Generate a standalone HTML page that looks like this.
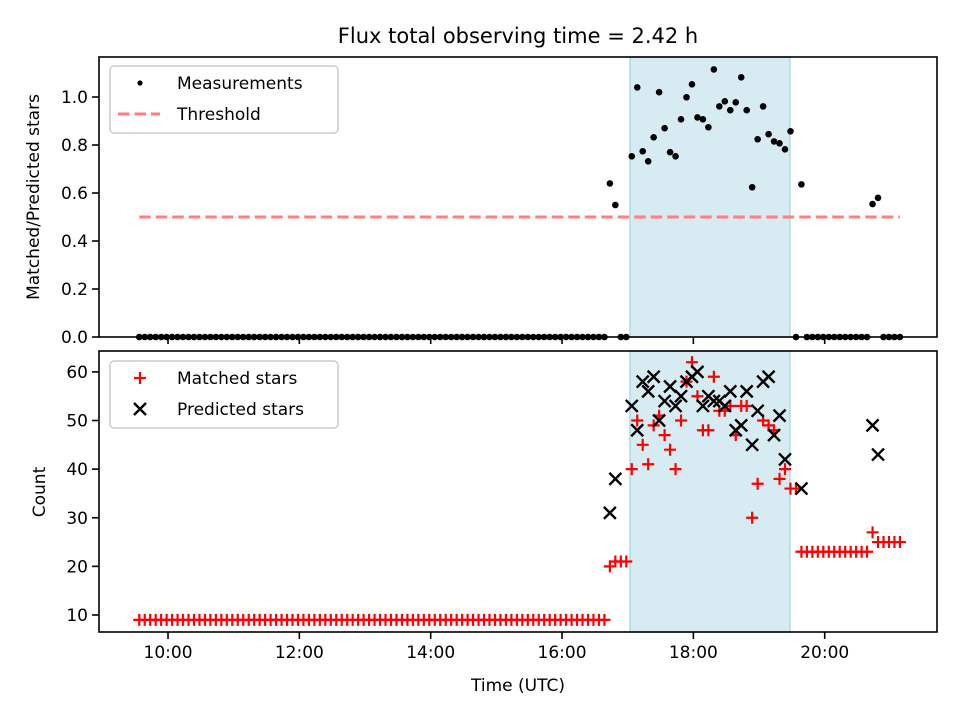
<!DOCTYPE html>
<html><head><meta charset="utf-8"><style>
html,body{margin:0;padding:0;background:#fff;}
svg text{font-family:"DejaVu Sans","Liberation Sans",sans-serif;fill:#000;}
</style></head><body>
<svg id="fig" width="960" height="720" viewBox="0 0 960 720" xmlns="http://www.w3.org/2000/svg">
<rect width="960" height="720" fill="#fff"/>
<text x="518" y="43" font-size="21" text-anchor="middle">Flux total observing time = 2.42 h</text>
<g id="topPanel"></g>
<g id="botPanel"></g>
<text x="518" y="691" font-size="17" text-anchor="middle">Time (UTC)</text>
<text transform="translate(39,197) rotate(-90)" font-size="17" text-anchor="middle">Matched/Predicted stars</text>
<text transform="translate(45,492) rotate(-90)" font-size="17" text-anchor="middle">Count</text>
</svg>
<script>
// ---- data ----
const startHour = 9.562;
const stepHour = 5/60;
const sampleCount = 140;
const ratioIdx = [86,87,90,91,92,93,94,95,96,97,98,99,100,101,102,103,104,105,106,107,108,109,110,111,112,113,114,115,116,117,118,119,121,134,135];
const ratioVals = [0.64,0.55,0.753,1.04,0.774,0.732,0.832,1.02,0.87,0.77,0.753,0.907,0.999,1.053,0.915,0.907,0.874,1.115,0.961,0.982,0.945,0.978,1.082,0.945,0.624,0.824,0.961,0.845,0.815,0.807,0.782,0.857,0.636,0.554,0.58];
const zeroIdxRanges = [[0,85],[88,89],[120,120],[122,133],[136,139]];
const matchedIdx = [86,87,88,89,90,91,92,93,94,95,96,97,98,99,100,101,102,103,104,105,106,107,108,109,110,111,112,113,114,115,116,117,118,119,120,134,135,136,137,138,139];
const matchedVals = [20,21,21,21,40,50,45,41,49,51,47,44,40,50,58,62,55,48,48,59,52,52,53,47,53,53,30,37,50,49,48,38,40,36,36,27,25,25,25,25,25];
const matchedFlatRanges = [[0,85,9],[121,133,23]];
const predictedIdx = [86,87,90,91,92,93,94,95,96,97,98,99,100,101,102,103,104,105,106,107,108,109,110,111,112,113,114,115,116,117,118,121,134,135];
const predictedVals = [31,38,53,48,58,56,59,50,54,57,53,55,58,59,60,53,55,54,54,53,56,48,49,56,45,52,58,59,47,51,42,36,49,43];
const threshold = 0.5;
const windowStart = 17.035, windowEnd = 19.47;
const xTicks = [10,12,14,16,18,20];
const xTickLabels = ["10:00","12:00","14:00","16:00","18:00","20:00"];
const topTicks = [0,0.2,0.4,0.6,0.8,1.0];
const topTickLabels = ["0.0","0.2","0.4","0.6","0.8","1.0"];
const botTicks = [10,20,30,40,50,60];
const botTickLabels = ["10","20","30","40","50","60"];

// ---- axes ----
const L=99,R=937, T1=57,B1=337, T2=351,B2=632;
const xMin=8.949,xMax=21.71;
const X=h=>L+(h-xMin)/(xMax-xMin)*(R-L);
const Y1=v=>B1-(v-0)/(1.1667-0)*(B1-T1);
const Y2=v=>B2-(v-6.5)/(64.3-6.5)*(B2-T2);
const tIdx=i=>startHour+i*stepHour;
const NS="http://www.w3.org/2000/svg";
function mk(tag,attrs,parent){const e=document.createElementNS(NS,tag);for(const k in attrs)e.setAttribute(k,attrs[k]);parent.appendChild(e);return e;}
const topG=document.getElementById('topPanel'), botG=document.getElementById('botPanel');

function panel(g,T,B,Yf,ticks,labels,isBottom){
  let r=mk('rect',{x:X(windowStart),y:T,width:X(windowEnd)-X(windowStart),height:B-T,fill:'#add8e6','fill-opacity':0.5,stroke:'#add8e6','stroke-width':1.5},g);
  
  
  ticks.forEach((v,k)=>{
    const y=Yf(v);
    let t=mk('line',{x1:L-7,x2:L,y1:y,y2:y,stroke:'#000','stroke-width':1.6},g);
    
    
    let tx=mk('text',{x:L-11,y:y+6,'font-size':17,'text-anchor':'end'},g);
    tx.textContent=labels[k];
    
    
  });
  xTicks.forEach((h,k)=>{
    const x=X(h);
    let t=mk('line',{x1:x,x2:x,y1:B,y2:B+7,stroke:'#000','stroke-width':1.6},g);
    
    
    if(isBottom){
      let tx=mk('text',{x:x,y:B+26,'font-size':17,'text-anchor':'middle'},g);
      tx.textContent=xTickLabels[k];
      
      
    }
  });
}
panel(topG,T1,B1,Y1,topTicks,topTickLabels,false);
panel(botG,T2,B2,Y2,botTicks,botTickLabels,true);

let th=mk('line',{x1:X(tIdx(0)),x2:X(tIdx(sampleCount-1)),y1:Y1(threshold),y2:Y1(threshold),stroke:'#ff7f7f','stroke-width':3,'stroke-dasharray':'11.5 5'},topG);



function dot(i,v){
  let c=mk('circle',{cx:X(tIdx(i)),cy:Y1(v),r:3.3,fill:'#000'},topG);
  
  
}
zeroIdxRanges.forEach(([a,b])=>{for(let i=a;i<=b;i++)dot(i,0);});
ratioIdx.forEach((i,k)=>dot(i,ratioVals[k]));

function plus(i,v){
  const x=X(tIdx(i)),y=Y2(v),s=6;
  let p=mk('path',{d:`M${x-s},${y}H${x+s}M${x},${y-s}V${y+s}`,stroke:'#ff0000','stroke-width':2.2,fill:'none'},botG);
  
  
}
function cross(i,v){
  const x=X(tIdx(i)),y=Y2(v),s=6;
  let p=mk('path',{d:`M${x-s},${y-s}L${x+s},${y+s}M${x-s},${y+s}L${x+s},${y-s}`,stroke:'#000','stroke-width':2.4,fill:'none'},botG);
  
  
}
matchedFlatRanges.forEach(([a,b,v])=>{for(let i=a;i<=b;i++)plus(i,v);});
matchedIdx.forEach((i,k)=>plus(i,matchedVals[k]));
predictedIdx.forEach((i,k)=>cross(i,predictedVals[k]));

[[topG,T1,B1],[botG,T2,B2]].forEach(([g,T,B])=>{
  let f=mk('rect',{x:L,y:T,width:R-L,height:B-T,fill:'none',stroke:'#000','stroke-width':1.6},g);
  
  
});

function legend(g,y0,items){
  let box=mk('rect',{x:110,y:y0,width:228,height:67,rx:4,fill:'#fff','fill-opacity':0.8,stroke:'#ccc','stroke-width':1.5},g);
  
  
  items.forEach((it,k)=>{
    const y=y0+17+k*31;
    it.draw(140,y);
    let t=mk('text',{x:177,y:y+6,'font-size':17},g);
    t.textContent=it.label;
    
    
  });
}
legend(topG,66,[
  {label:'Measurements',draw:(x,y)=>{let c=mk('circle',{cx:x,cy:y,r:2.6,fill:'#000'},topG);}},
  {label:'Threshold',draw:(x,y)=>{let l=mk('line',{x1:118,x2:160,y1:y,y2:y,stroke:'#ff7f7f','stroke-width':3,'stroke-dasharray':'11.5 5'},topG);}}
]);
legend(botG,361,[
  {label:'Matched stars',draw:(x,y)=>{let p=mk('path',{d:`M${x-6},${y}H${x+6}M${x},${y-6}V${y+6}`,stroke:'#f00','stroke-width':2.2},botG);}},
  {label:'Predicted stars',draw:(x,y)=>{let p=mk('path',{d:`M${x-6},${y-6}L${x+6},${y+6}M${x-6},${y+6}L${x+6},${y-6}`,stroke:'#000','stroke-width':2.4},botG);}}
]);
</script>
</body></html>
